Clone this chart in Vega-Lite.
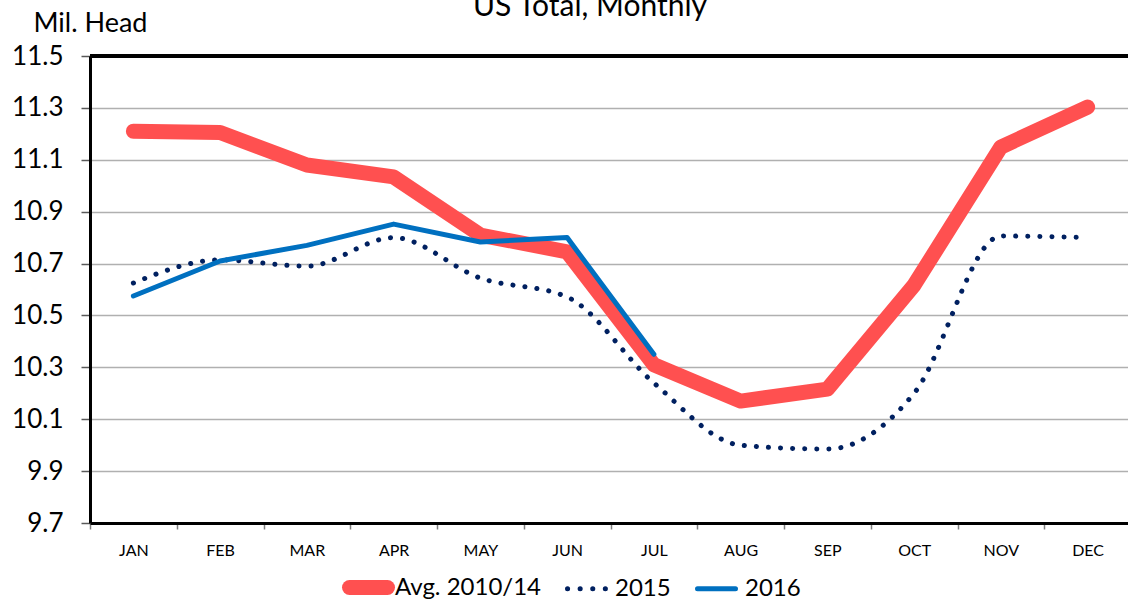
{
  "$schema": "https://vega.github.io/schema/vega-lite/v6.json",
  "width": 1038,
  "height": 467,
  "autosize": {"type": "none"},
  "padding": {"left": 90, "top": 56, "right": 0, "bottom": 78},
  "background": "white",
  "config": {
    "font": "Lato",
    "view": {"stroke": null}
  },
  "title": {
    "text": "US Total, Monthly",
    "fontSize": 30,
    "font": "Lato",
    "fontWeight": "normal",
    "color": "black",
    "anchor": "middle",
    "frame": "group",
    "dx": -19,
    "offset": -37,
    "baseline": "alphabetic"
  },
  "data": {
    "values": [
      {"month": "JAN", "series": "Avg. 2010/14", "value": 11.21},
      {"month": "FEB", "series": "Avg. 2010/14", "value": 11.205},
      {"month": "MAR", "series": "Avg. 2010/14", "value": 11.08},
      {"month": "APR", "series": "Avg. 2010/14", "value": 11.034},
      {"month": "MAY", "series": "Avg. 2010/14", "value": 10.81},
      {"month": "JUN", "series": "Avg. 2010/14", "value": 10.745},
      {"month": "JUL", "series": "Avg. 2010/14", "value": 10.31},
      {"month": "AUG", "series": "Avg. 2010/14", "value": 10.17},
      {"month": "SEP", "series": "Avg. 2010/14", "value": 10.216},
      {"month": "OCT", "series": "Avg. 2010/14", "value": 10.617},
      {"month": "NOV", "series": "Avg. 2010/14", "value": 11.149},
      {"month": "DEC", "series": "Avg. 2010/14", "value": 11.303},
      {"month": "JAN", "series": "2015", "value": 10.625},
      {"month": "FEB", "series": "2015", "value": 10.714},
      {"month": "MAR", "series": "2015", "value": 10.69},
      {"month": "APR", "series": "2015", "value": 10.8},
      {"month": "MAY", "series": "2015", "value": 10.644},
      {"month": "JUN", "series": "2015", "value": 10.571},
      {"month": "JUL", "series": "2015", "value": 10.24},
      {"month": "AUG", "series": "2015", "value": 10.0},
      {"month": "SEP", "series": "2015", "value": 9.985},
      {"month": "OCT", "series": "2015", "value": 10.2},
      {"month": "NOV", "series": "2015", "value": 10.806},
      {"month": "DEC", "series": "2015", "value": 10.8},
      {"month": "JAN", "series": "2016", "value": 10.575},
      {"month": "FEB", "series": "2016", "value": 10.71},
      {"month": "MAR", "series": "2016", "value": 10.77},
      {"month": "APR", "series": "2016", "value": 10.852},
      {"month": "MAY", "series": "2016", "value": 10.783},
      {"month": "JUN", "series": "2016", "value": 10.8},
      {"month": "JUL", "series": "2016", "value": 10.35}
    ]
  },
  "layer": [
    {
      "transform": [{"filter": "datum.series === 'Avg. 2010/14'"}],
      "mark": {"type": "line", "strokeCap": "round", "strokeJoin": "round"},
      "encoding": {
        "x": {
          "field": "month", "type": "ordinal", "bandPosition": 0.5,
          "sort": ["JAN","FEB","MAR","APR","MAY","JUN","JUL","AUG","SEP","OCT","NOV","DEC"],
          "scale": {"type": "band", "paddingInner": 0, "paddingOuter": 0, "range": [0, 1041]},
          "axis": {
            "title": null, "labelAngle": 0, "labelFontSize": 16, "labelColor": "black", "labelFont": "Lato",
            "tickBand": "extent", "tickSize": 6, "tickColor": "#7f7f7f", "tickWidth": 1.5,
            "domainColor": "black", "domainWidth": 3, "labelPadding": 13, "grid": false
          }
        },
        "y": {
          "field": "value", "type": "quantitative",
          "scale": {"domain": [9.7, 11.5], "nice": false, "zero": false},
          "axis": {
            "values": [9.7, 9.9, 10.1, 10.3, 10.5, 10.7, 10.9, 11.1, 11.3, 11.5],
            "format": ".1f", "labelFontSize": 26, "labelColor": "black", "labelFont": "Lato",
            "tickSize": 9, "tickColor": "#595959", "tickWidth": 1.5, "labelPadding": 18,
            "domainColor": "black", "domainWidth": 3,
            "grid": true, "gridColor": "#b0b0b0", "gridWidth": 1.5,
            "title": "Mil. Head", "titleAngle": 0, "titleFontSize": 27, "titleFontWeight": "normal",
            "titleFont": "Lato", "titleColor": "black",
            "titleX": -57, "titleY": -25, "titleAlign": "left", "titleBaseline": "alphabetic"
          }
        },
        "color": {
          "field": "series", "type": "nominal",
          "scale": {"domain": ["Avg. 2010/14", "2015", "2016"], "range": ["#ff5050", "#002060", "#0070c0"]},
          "legend": {
            "values": ["2015", "2016"],
            "orient": "none", "legendX": 475, "legendY": 511, "direction": "horizontal", "title": null,
            "symbolType": "stroke", "symbolSize": 1444, "symbolStrokeWidth": 5,
            "labelFontSize": 24, "labelFont": "Lato",
            "labelColor": "black", "columnPadding": 16, "labelOffset": 7,
            "encode": {"symbols": {"update": {
              "strokeCap": {"value": "round"},
              "strokeWidth": {"value": 5},
              "strokeDash": {"signal": "datum.value === '2015' ? [0.1, 12.5] : [1, 0]"}
            }}}
          }
        },
        "strokeWidth": {
          "field": "series", "type": "nominal",
          "scale": {"type": "ordinal", "domain": ["2015", "2016", "Avg. 2010/14"], "range": [5, 5, 15]},
          "legend": {
            "values": ["Avg. 2010/14"],
            "orient": "none", "legendX": 252, "legendY": 505, "direction": "horizontal", "title": null,
            "symbolType": "stroke", "symbolSize": 1444,
            "labelFontSize": 24, "labelFont": "Lato",
            "labelColor": "black", "labelOffset": 0,
            "encode": {"symbols": {"update": {
              "strokeCap": {"value": "round"},
              "stroke": {"value": "#ff5050"}
            }}}
          }
        }
      }
    },
    {
      "transform": [{"filter": "datum.series === '2015'"}],
      "mark": {"type": "line", "strokeCap": "round", "interpolate": "monotone", "strokeWidth": 5, "strokeDash": [0.1, 12]},
      "encoding": {
        "x": {"field": "month", "type": "ordinal", "bandPosition": 0.5,
          "sort": ["JAN","FEB","MAR","APR","MAY","JUN","JUL","AUG","SEP","OCT","NOV","DEC"]},
        "y": {"field": "value", "type": "quantitative"},
        "color": {"field": "series", "type": "nominal"}
      }
    },
    {
      "transform": [{"filter": "datum.series === '2016'"}],
      "mark": {"type": "line", "strokeCap": "round", "strokeJoin": "round", "strokeWidth": 5},
      "encoding": {
        "x": {"field": "month", "type": "ordinal", "bandPosition": 0.5,
          "sort": ["JAN","FEB","MAR","APR","MAY","JUN","JUL","AUG","SEP","OCT","NOV","DEC"]},
        "y": {"field": "value", "type": "quantitative"},
        "color": {"field": "series", "type": "nominal"}
      }
    },
    {
      "mark": {"type": "rule", "color": "black", "strokeWidth": 3},
      "encoding": {"y": {"datum": 11.5}}
    }
  ]
}
